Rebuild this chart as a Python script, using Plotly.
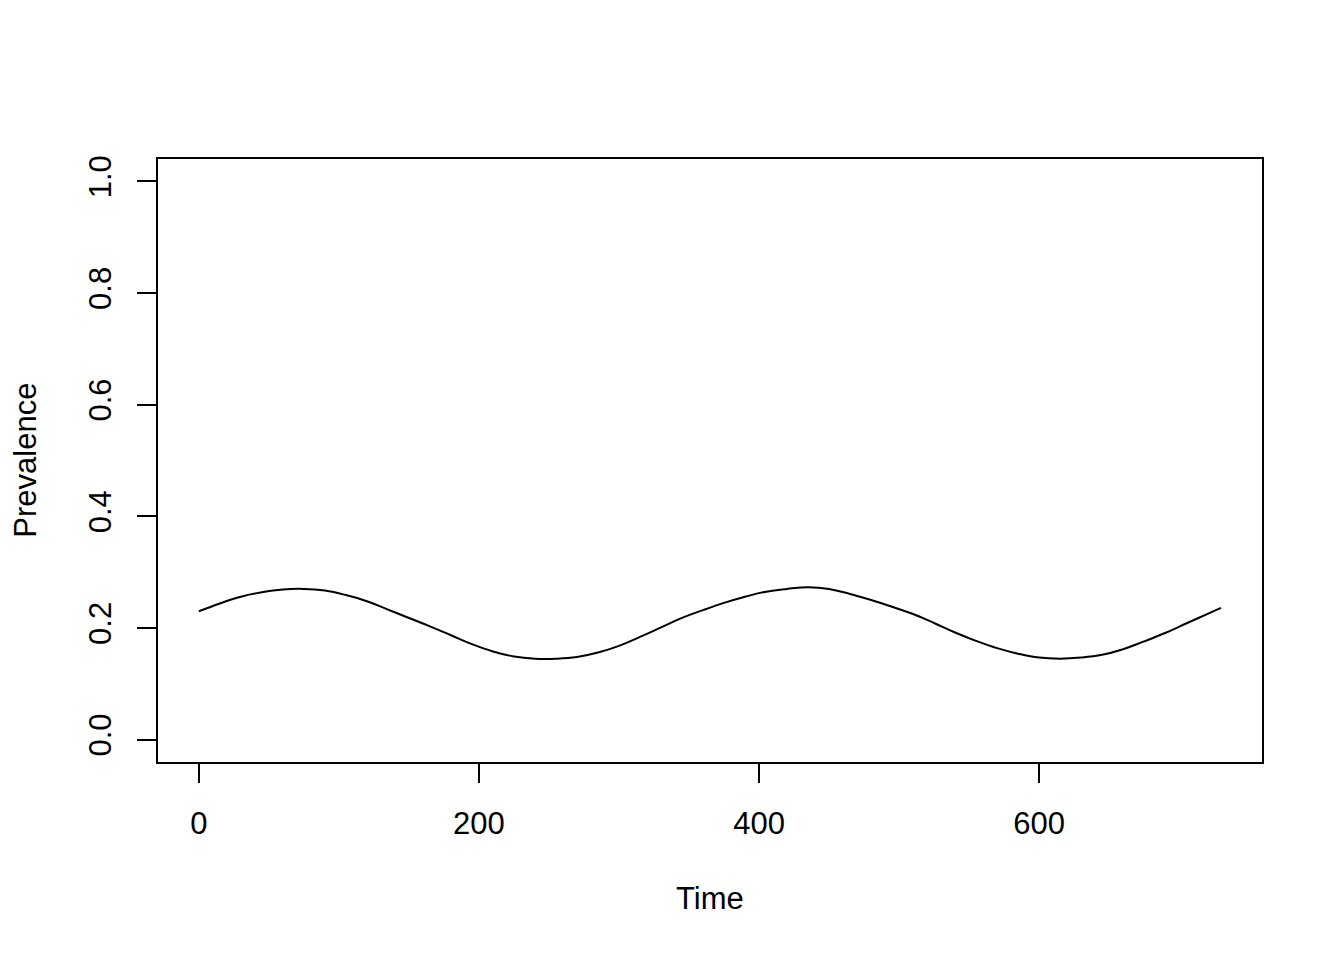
import plotly.graph_objects as go

time = [0, 15, 30, 45, 60, 75, 90, 105, 120, 135, 150, 165, 180, 195, 210,
        225, 240, 255, 270, 285, 300, 315, 330, 345, 360, 375, 390, 405,
        420, 435, 450, 465, 480, 495, 510, 525, 540, 555, 570, 585, 600,
        615, 630, 645, 660, 675, 690, 705, 720, 730]
prevalence = [0.230, 0.244, 0.256, 0.264, 0.269, 0.270, 0.267, 0.259, 0.248,
              0.233, 0.218, 0.203, 0.187, 0.171, 0.158, 0.149, 0.145, 0.145,
              0.148, 0.156, 0.168, 0.184, 0.201, 0.218, 0.232, 0.245, 0.256,
              0.265, 0.270, 0.273, 0.270, 0.261, 0.250, 0.238, 0.225, 0.209,
              0.192, 0.177, 0.164, 0.154, 0.147, 0.145, 0.147, 0.152, 0.162,
              0.176, 0.191, 0.208, 0.225, 0.236]

x_ticks = [0, 200, 400, 600]
y_ticks = [0.0, 0.2, 0.4, 0.6, 0.8, 1.0]

FONT = "Liberation Sans, Arial, Helvetica, sans-serif"
FS = 31

fig = go.Figure()
fig.add_trace(go.Scatter(x=time, y=prevalence, mode="lines",
                         line=dict(color="black", width=2, shape="spline",
                                   smoothing=1.2),
                         showlegend=False, hoverinfo="skip"))

fig.update_layout(
    width=1344, height=960,
    paper_bgcolor="white", plot_bgcolor="white",
    margin=dict(l=150, r=90, t=151, b=206, pad=0),
    font=dict(family=FONT, size=FS, color="black"),
    xaxis=dict(range=[-29.2, 759.2], tickvals=x_ticks,
               ticktext=[str(v) for v in x_ticks],
               showgrid=False, zeroline=False, showline=True, mirror=True,
               linecolor="black", linewidth=2, ticks="outside", ticklen=19,
               tickwidth=2, tickcolor="black", ticklabelstandoff=14,
               tickfont=dict(family=FONT, size=FS, color="black")),
    yaxis=dict(range=[-0.04, 1.04], tickvals=y_ticks,
               ticktext=[f"{v:.1f}" for v in y_ticks], tickangle=-90,
               showgrid=False, zeroline=False, showline=True, mirror=True,
               linecolor="black", linewidth=2, ticks="outside", ticklen=19,
               tickwidth=2, tickcolor="black", ticklabelstandoff=14,
               tickfont=dict(family=FONT, size=FS, color="black")),
    annotations=[
        dict(text="Time", xref="paper", yref="paper", x=0.5, y=-0.226,
             showarrow=False, xanchor="center", yanchor="middle",
             font=dict(family=FONT, size=FS, color="black")),
        dict(text="Prevalence", xref="paper", yref="paper", x=-0.1203, y=0.5,
             showarrow=False, xanchor="center", yanchor="middle", textangle=-90,
             font=dict(family=FONT, size=FS, color="black")),
    ],
)

fig.write_html("out.html")
